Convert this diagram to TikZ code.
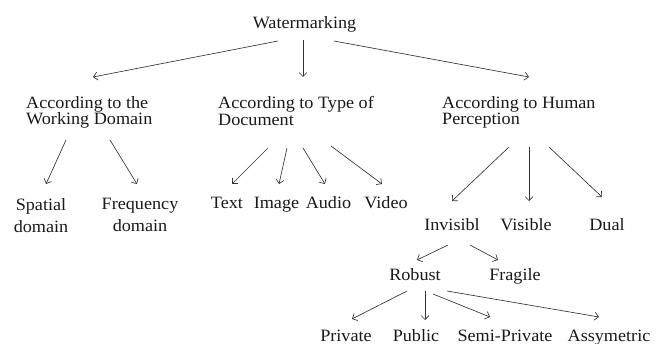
\documentclass[tikz,border=0pt]{standalone}
\usepackage{fontspec}
\setmainfont{Liberation Serif}[FakeStretch=1.05]
\usetikzlibrary{arrows.meta,calc}
\begin{document}
\begin{tikzpicture}[x=1pt,y=-1pt,
  lbl/.style={inner sep=0pt,font=\fontsize{17.3}{16.5}\selectfont,text=black!90},
  multi/.style={lbl,align=left,anchor=north west},
  leaf2/.style={lbl,align=center,anchor=north,font=\fontsize{17.3}{22}\selectfont},
  one/.style={lbl,anchor=base},
  arr/.style={draw=black!80,line width=0.65pt,-{Straight Barb[length=4pt,width=8pt]}}]
\useasboundingbox (0,0) rectangle (664,344);
% nodes
\node[one] (wm) at (304.5,28.5) {Watermarking};
\node[multi] (wd) at (26,96.2) {According to the\\Working Domain};
\node[multi] (td) at (218,96.2) {According to Type of\\Document};
\node[multi] (hp) at (442,96.2) {According to Human\\Perception};
\node[leaf2] (sp) at (41,198) {Spatial\\domain};
\node[leaf2] (fd) at (140,198) {Frequency\\domain};
\node[one] (tx) at (227,208.5) {Text};
\node[one] (im) at (276.5,208.5) {Image};
\node[one] (au) at (328.5,208.5) {Audio};
\node[one] (vi) at (386,208.5) {Video};
\node[one] (inv) at (452,231) {Invisibl};
\node[one] (vis) at (526,231) {Visible};
\node[one] (du) at (607,231) {Dual};
\node[one] (ro) at (415,281) {Robust};
\node[one] (fr) at (515,281) {Fragile};
\node[one] (pr) at (346,341.5) {Private};
\node[one] (pu) at (416,341.5) {Public};
\node[one] (se) at (505,341.5) {Semi-Private};
\node[one] (as) at (609,341.5) {Assymetric};
% arrows from Watermarking
\draw[arr] ($(wm.base)+(-26.5,12.5)$) -- ($(wd.north west)+(67,-19.2)$);
\draw[arr] ($(wm.base)+(-1.5,11.5)$) -- ($(td.north west)+(85,-19.2)$);
\draw[arr] ($(wm.base)+(29.5,12.5)$) -- ($(hp.north west)+(87,-19.2)$);
% working domain
\draw[arr] ($(wd.north west)+(40,43.8)$) -- ($(sp.north)+(5,-14)$);
\draw[arr] ($(wd.north west)+(84,43.8)$) -- ($(fd.north)+(-3,-14)$);
% type of document
\draw[arr] ($(td.north west)+(50,51.8)$) -- ($(tx.base)+(5,-24.5)$);
\draw[arr] ($(td.north west)+(69,51.8)$) -- ($(im.base)+(2.5,-24.5)$);
\draw[arr] ($(td.north west)+(85,51.8)$) -- ($(au.base)+(-3.5,-24.5)$);
\draw[arr] ($(td.north west)+(113,49.8)$) -- ($(vi.base)+(-4,-24.5)$);
% human perception
\draw[arr] ($(hp.north west)+(67,50.8)$) -- ($(inv.base)+(0,-30)$);
\draw[arr] ($(hp.north west)+(87,50.8)$) -- ($(vis.base)+(3,-30)$);
\draw[arr] ($(hp.north west)+(107,50.8)$) -- ($(du.base)+(-5,-34)$);
% invisible
\draw[arr] ($(inv.base)+(-4,14)$) -- ($(ro.base)+(2,-21)$);
\draw[arr] ($(inv.base)+(18,14)$) -- ($(fr.base)+(-17,-21)$);
% robust
\draw[arr] ($(ro.base)+(-8,10)$) -- ($(pr.base)+(6,-22.5)$);
\draw[arr] ($(ro.base)+(10,10)$) -- ($(pu.base)+(9,-21.5)$);
\draw[arr] ($(ro.base)+(18,13)$) -- ($(se.base)+(-15,-24.5)$);
\draw[arr] ($(ro.base)+(32,10)$) -- ($(as.base)+(-10,-24.5)$);
\end{tikzpicture}
\end{document}
